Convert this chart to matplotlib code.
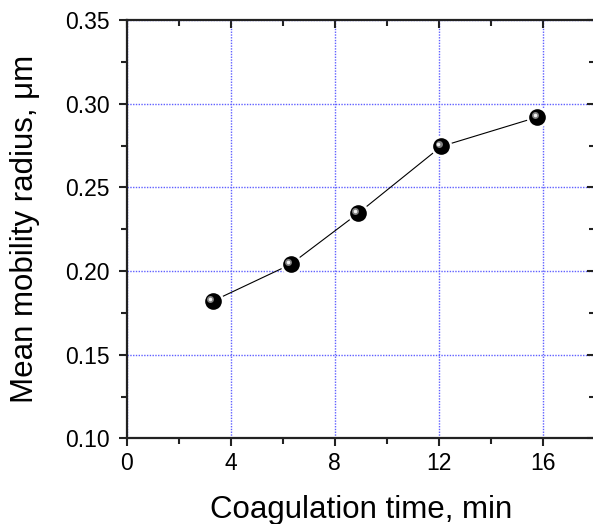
import numpy as np
import matplotlib.pyplot as plt
from matplotlib import transforms

plt.rcParams['font.family'] = ['Liberation Sans', 'DejaVu Sans']

# coagulation time (min) vs mean mobility radius (um)
time_min = [3.3, 6.3, 8.9, 12.1, 15.8]
radius_um = [0.182, 0.204, 0.2345, 0.2745, 0.292]

x_ticks = [0, 4, 8, 12, 16]
y_ticks = [0.10, 0.15, 0.20, 0.25, 0.30, 0.35]

fig = plt.figure(figsize=(5.93, 5.24), dpi=100)
ax = fig.add_axes([0.2137, 0.1632, 0.7891, 0.7986])

ax.set_xlim(0, 18)
ax.set_ylim(0.10, 0.35)

# connecting line, with white halo under markers so the line stops short
ax.plot(time_min, radius_um, color='black', linewidth=0.8, zorder=3)
ax.plot(time_min, radius_um, 'o', color='white', markersize=15.5, markeredgewidth=0, zorder=4)
ax.plot(time_min, radius_um, 'o', color='black', markersize=12, markeredgewidth=0, zorder=5)

# sphere highlight
hl1 = transforms.offset_copy(ax.transData, fig=fig, x=-2.6, y=2.2, units='dots')
hl2 = transforms.offset_copy(ax.transData, fig=fig, x=-2.9, y=2.5, units='dots')
ax.plot(time_min, radius_um, 'o', color='#808080', markersize=5, markeredgewidth=0,
        transform=hl1, zorder=6)
ax.plot(time_min, radius_um, 'o', color='#f0f0f0', markersize=2.6, markeredgewidth=0,
        transform=hl2, zorder=7)

ax.set_xticks(x_ticks)
ax.set_xticks(np.arange(2, 18, 4), minor=True)
ax.set_yticks(y_ticks)
ax.set_yticks(np.arange(0.125, 0.35, 0.05), minor=True)
ax.set_yticklabels(['%.2f' % v for v in y_ticks])

ax.tick_params(axis='both', which='major', labelsize=16.5, length=6, width=1.5, color='#222222')
ax.tick_params(axis='both', which='minor', length=4, width=1.5, color='#222222')
ax.tick_params(axis='x', which='both', direction='out', top=True, pad=4)
ax.tick_params(axis='y', which='both', direction='out', right=True, pad=6)

# grid (blue dotted, only at major ticks)
ax.grid(True, which='major', color='#6060ff', linestyle=(0, (1, 1)), linewidth=1.0)
ax.set_axisbelow(True)

for sp in ax.spines.values():
    sp.set_linewidth(1.6)
    sp.set_color('#222222')

ax.set_xlabel('Coagulation time, min', fontsize=22.5, labelpad=14)
ax.set_ylabel('Mean mobility radius, \u03bcm', fontsize=22.5, labelpad=18)

# top and right ticks point inward
for t in ax.xaxis.get_major_ticks() + ax.xaxis.get_minor_ticks():
    t.tick2line.set_marker(3)
for t in ax.yaxis.get_major_ticks() + ax.yaxis.get_minor_ticks():
    t.tick2line.set_marker(0)

fig.savefig('out.png', dpi=100)
